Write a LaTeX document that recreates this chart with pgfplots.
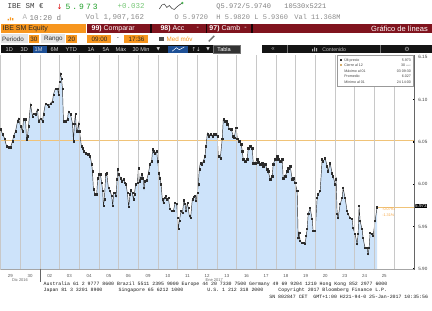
\documentclass[border=0pt]{standalone}
\usepackage{fontspec}
\setmainfont{Liberation Sans}
\newfontfamily\mono{Liberation Mono}
\newfontfamily\monowide[LetterSpace=25]{Liberation Mono}
\newfontfamily\symfont{DejaVu Sans}
\usepackage{pgfplots}
\pgfplotsset{compat=1.18}
\usepackage{pgfplotstable}
\newcommand{\fs}[1]{\fontsize{#1}{#1}\selectfont}
\definecolor{bbfill}{RGB}{205,227,250}
\definecolor{bbline}{RGB}{45,45,45}
\definecolor{bborange}{RGB}{247,150,30}
\definecolor{bbred}{RGB}{128,20,30}
\definecolor{cierre}{RGB}{240,195,120}
\definecolor{bbgreen}{RGB}{30,160,40}
\definecolor{bblgreen}{RGB}{120,200,120}
\definecolor{bbblue}{RGB}{30,80,150}
\definecolor{bbgrid}{RGB}{200,200,200}

\pgfplotstableread{
d v
0 6.0651
0.102 6.0592
0.203 6.0544
0.305 6.0450
0.406 6.0438
0.508 6.0438
0.609 6.0509
0.660 6.0568
0.761 6.0627
0.863 6.0745
0.914 6.0780
1.015 6.0686
1.117 6.0627
1.168 6.0769
1.269 6.0769
1.320 6.0533
1.371 6.0568
1.421 6.0686
1.523 6.0945
1.624 6.0804
1.675 6.0839
1.777 6.0828
1.878 6.0886
1.929 6.0745
2.030 6.0780
2.132 6.0745
2.183 6.0828
2.284 6.0957
2.386 6.0945
2.437 6.0922
2.538 6.0957
2.640 6.0981
2.690 6.1063
2.792 6.1134
2.893 6.1134
2.944 6.1063
2.995 6.1217
3.046 6.1311
3.096 6.1252
3.147 6.1134
3.198 6.0745
3.299 6.0745
3.401 6.0769
3.452 6.0863
3.553 6.0828
3.655 6.0721
3.706 6.0509
3.756 6.0721
3.807 6.0839
3.858 6.0627
3.909 6.0627
3.959 6.0721
4.010 6.0627
4.112 6.0450
4.162 6.0427
4.213 6.0391
4.315 6.0368
4.416 6.0356
4.467 6.0356
4.553 6.0332
4.634 6.0238
4.670 6.0155
4.721 5.9943
4.807 5.9884
4.888 5.9884
4.939 6.0073
5.010 6.0120
5.076 6.0120
5.142 6.0014
5.193 5.9920
5.228 5.9743
5.279 5.9825
5.345 6.0120
5.396 6.0132
5.482 5.9955
5.568 5.9920
5.650 5.9861
5.700 5.9743
5.751 5.9896
5.822 5.9896
5.873 5.9861
5.924 6.0061
5.954 6.0179
6.025 6.0120
6.091 6.0073
6.157 6.0037
6.244 6.0061
6.330 6.0014
6.381 6.0002
6.447 5.9896
6.513 5.9731
6.584 5.9884
6.635 5.9931
6.700 5.9896
6.751 5.9825
6.802 5.9884
6.868 6.0002
6.954 6.0014
7.005 6.0191
7.056 6.0037
7.122 6.0073
7.173 6.0120
7.244 6.0073
7.294 5.9955
7.345 6.0037
7.426 6.0049
7.513 6.0132
7.599 6.0238
7.680 6.0273
7.731 6.0415
7.802 6.0391
7.853 6.0368
7.934 6.0391
7.985 6.0273
8.056 6.0132
8.107 6.0073
8.157 6.0002
8.223 5.9825
8.274 5.9778
8.325 5.9837
8.391 5.9861
8.462 5.9825
8.528 5.9837
8.614 5.9707
8.695 5.9684
8.782 5.9684
8.868 5.9778
8.949 5.9766
9.000 5.9601
9.035 5.9471
9.086 5.9566
9.172 5.9684
9.239 5.9660
9.325 5.9813
9.376 5.9766
9.426 5.9684
9.492 5.9778
9.543 5.9719
9.594 5.9625
9.660 5.9601
9.746 5.9825
9.812 5.9849
9.883 5.9861
9.934 5.9802
10.000 5.9896
10.051 6.0002
10.101 6.0179
10.152 6.0250
10.218 6.0238
10.305 6.0273
10.391 6.0332
10.442 6.0450
10.508 6.0603
10.558 6.0568
10.660 6.0592
10.761 6.0568
10.812 6.0592
10.914 6.0592
11.015 6.0568
11.066 6.0332
11.168 6.0309
11.269 6.0544
11.320 6.0769
11.371 6.0745
11.472 6.0745
11.523 6.0710
11.624 6.0662
11.726 6.0651
11.827 6.0568
11.878 6.0556
11.980 6.0674
12.030 6.0544
12.132 6.0509
12.234 6.0474
12.284 6.0391
12.335 6.0297
12.437 6.0273
12.538 6.0297
12.589 6.0427
12.690 6.0450
12.792 6.0427
12.843 6.0250
12.944 6.0250
13.046 6.0297
13.096 6.0261
13.198 6.0238
13.299 6.0250
13.350 6.0214
13.452 6.0238
13.553 6.0179
13.604 6.0155
13.706 6.0061
13.807 6.0096
13.858 6.0238
13.959 6.0297
14.061 6.0332
14.112 6.0297
14.213 6.0273
14.315 6.0297
14.365 6.0073
14.467 6.0096
14.569 6.0155
14.619 6.0191
14.721 6.0214
14.822 6.0061
14.873 6.0073
14.975 6.0014
15.076 5.9920
15.127 5.9365
15.178 5.9424
15.228 5.9330
15.330 5.9306
15.381 5.9306
15.482 5.9295
15.533 5.9389
15.584 5.9471
15.635 5.9648
15.736 5.9719
15.838 5.9589
15.888 5.9448
15.939 5.9448
15.990 5.9448
16.091 5.9837
16.142 5.9884
16.244 5.9920
16.345 6.0297
16.396 6.0273
16.497 6.0309
16.599 6.0214
16.650 6.0155
16.751 6.0250
16.853 6.0132
16.904 6.0096
17.005 6.0002
17.056 6.0061
17.107 5.9648
17.157 5.9601
17.259 5.9766
17.360 5.9837
17.411 5.9955
17.513 5.9837
17.614 5.9684
17.665 5.9648
17.766 5.9601
17.868 5.9589
17.919 5.9483
18.020 5.9412
18.122 5.9295
18.173 5.9412
18.223 5.9743
18.274 5.9566
18.376 5.9471
18.426 5.9365
18.528 5.9247
18.629 5.9247
18.680 5.9177
18.731 5.9247
18.782 5.9424
18.883 5.9412
18.934 5.9389
19.036 5.9566
19.137 5.9730
}\pricedata

\begin{document}
\begin{tikzpicture}[x=1pt,y=1pt,t/.style={anchor=west,inner sep=0pt}]
\fill[white] (0,0) rectangle (432,311);

% ---------- header line 1
\node[t,font=\mono\fs{7.5},text=black!75] at (7,304.5) {IBE SM €};
\node[t,font=\symfont\fs{7},text=red!85!black] at (56,304.5) {↓};
\node[t,font=\monowide\fs{8},text=bbgreen] at (65,304.5) {5.973};
\node[t,font=\mono\fs{7.5},text=bblgreen] at (117,304.5) {+0.032};
\draw[black!80,line width=0.5pt] (159,302) -- (161.5,306) -- (164,307) -- (166.5,303.5) -- (169,305.5) -- (171.5,302.5) -- (174,301.5) -- (176.5,304) -- (179,306) -- (182,308);
\fill[bbgreen!80] (182,308) circle (1.3pt);
\node[t,font=\mono\fs{7},text=black!50] at (216,304.5) {Q5.972/5.9740};
\node[t,font=\mono\fs{7},text=black!50] at (284,304.5) {10530x5221};
% ---------- header line 2
\fill[bborange] (7,290.5) rectangle (8.3,292) (9.3,290.5) rectangle (10.6,293.5) (11.6,290.5) rectangle (12.9,292.8);
\node[t,font=\mono\fs{7.5},text=black!30] at (22,293.5) {A};
\node[t,font=\mono\fs{7.5},text=black!50] at (29,293.5) {10:20 d};
\node[t,font=\mono\fs{7.5},text=black!45] at (85,293.5) {Vol 1,907,162};
\node[t,font=\mono\fs{7},text=black!45] at (174,293.5) {O 5.9720};
\node[t,font=\mono\fs{7},text=black!45] at (216,293.5) {H 5.9820};
\node[t,font=\mono\fs{7},text=black!45] at (254,293.5) {L 5.9360};
\node[t,font=\mono\fs{7},text=black!45] at (294,293.5) {Val 11.368M};

% ---------- row B (orange / red bar)
\fill[bborange] (0,278) rectangle (86,287);
\fill[bbred] (87,278) rectangle (432,287);
\fill[black!80!bbred] (150,278) rectangle (151.3,287);
\fill[black!80!bbred] (205.5,278) rectangle (206.8,287);
\fill[black!80!bbred] (250.5,278) rectangle (253,287);
\node[t,font=\fs{7},text=black!85] at (2,282.5) {IBE SM Equity};
\node[t,font=\fs{7},text=white] at (91,282.5) {\textbf{99)} Comparar};
\node[t,font=\fs{7},text=white] at (160,282.5) {\textbf{98)} Acc};
\node[t,font=\fs{7},text=white] at (196,282.5) {-};
\node[t,font=\fs{7},text=white] at (209,282.5) {\textbf{97)} Camb};
\node[t,font=\fs{7},text=white] at (244,282.5) {-};
\node[anchor=east,inner sep=0pt,font=\fs{7.5},text=white] at (428,282.5) {Gráfico de líneas};

% ---------- row C
\fill[black!10] (0,267.5) rectangle (27,276.5);
\node[t,font=\fs{6.3},text=black!80] at (1.5,272) {Periodo};
\fill[bborange] (28,268) rectangle (38.5,276);
\node[font=\fs{6.3},text=black!85,inner sep=0pt] at (33.25,272) {30};
\fill[black!10] (41,267.5) rectangle (65,276.5);
\node[t,font=\fs{6.3},text=black!80] at (43.5,272) {Rango};
\fill[bborange] (66,268) rectangle (76.5,276);
\node[font=\fs{6.3},text=black!85,inner sep=0pt] at (71.25,272) {20};
\fill[bborange] (87,268) rectangle (111,276);
\node[font=\fs{6.3},text=black!85,inner sep=0pt] at (99,272) {09:00};
\node[font=\fs{6.3},text=black!70,inner sep=0pt] at (117.5,272) {-};
\fill[bborange] (124,268) rectangle (148,276);
\node[font=\fs{6.3},text=black!85,inner sep=0pt] at (136,272) {17:36};
\fill[black!70] (159,269.8) rectangle (163.5,274.3);
\node[t,font=\fs{6.3},text=bborange] at (166,272) {Med móv};
\draw[black!55,line width=1.4pt] (208.5,269.5) -- (214,275);

% ---------- row D
\fill[black!93] (0,257.5) rectangle (241,266);
\fill[bbblue] (32,258.2) rectangle (47,265.3);
\fill[bbblue] (168,258.2) rectangle (188,265.3);
\draw[white,line width=0.5pt] (172,259.8) -- (176,263.2) -- (179,261.2) -- (184,264);
\fill[black!80] (213,257.5) rectangle (240,266);
\draw[black!55,line width=0.4pt] (213.2,257.7) rectangle (239.8,265.8);
\foreach \xx/\lab in {5/1D,20/3D,34/1M,50/6M,65/YTD,87/1A,102/5A,115/Máx,132/30 Min}
  \node[t,font=\fs{5.6},text=black!15] at (\xx,261.75) {\lab};
\node[t,font=\symfont\fs{4.5},text=black!15] at (156,261.75) {▼};
\node[t,font=\symfont\fs{5.5},text=black!15] at (191,261.75) {↑↓};
\node[t,font=\symfont\fs{4.5},text=black!15] at (206,261.75) {▼};
\node[t,font=\fs{5.6},text=white] at (217,261.75) {Tabla};
\fill[black!92] (262,257.5) rectangle (432,266);
\draw[black!55,line width=0.5pt] (287,258) -- (287,265.5);
\draw[black!55,line width=0.5pt] (380,258) -- (380,265.5);
\node[t,font=\fs{6},text=black!25] at (271,261.75) {«};
\fill[black!30] (312,259.5) rectangle (313,262) (314,259.5) rectangle (315,263.5) (316,259.5) rectangle (317,262.8);
\node[t,font=\fs{5.2},text=black!25] at (322,261.75) {Contenido};
\node[font=\symfont\fs{6},text=black!30,inner sep=0pt] at (407,261.75) {⚙};

% ---------- chart
\begin{axis}[
  at={(0,48.5)}, anchor=south west,
  width=414pt, height=214.5pt, scale only axis,
  xmin=0, xmax=21.015, ymin=5.8994, ymax=6.1524,
  enlargelimits=false,
  axis line style={draw=none},
  ytick pos=right, yticklabel pos=right,
  xtick pos=bottom,
  xtick={0.5,1.5,...,19.5},
  xticklabels={29,30,02,03,04,05,06,09,10,11,12,13,16,17,18,19,20,23,24,25},
  xtick style={draw=none},
  minor xtick={0,1,...,20},
  minor tick length=0pt,
  xminorgrids=true,
  minor x grid style={bbgrid,line width=0.5pt},
  axis on top,
  xticklabel style={font=\fs{4.4},text=black!65,yshift=-0.4pt},
  ytick={5.9,5.95,6,6.05,6.1,6.15},
  yticklabels={5.90,5.95,6.00,6.05,6.10,6.15},
  ytick style={draw=black,line width=1.3pt},
  major tick length=1.3pt, tick align=center,
  yticklabel style={font=\fs{4.6},text=black!75,xshift=0.2pt},
  after end axis/.code={
    \draw[black!35,line width=0.4pt] (rel axis cs:0,0) -- (rel axis cs:1,0);
    \draw[black!60,line width=0.6pt] (rel axis cs:1,0) -- (rel axis cs:1,1);
  },
]
\addplot[fill=bbfill,draw=none] table[x=d,y=v]{\pricedata} \closedcycle;
\addplot[cierre,line width=0.6pt] coordinates {(0,6.0521) (21.015,6.0521)};
\addplot[bbline,line width=0.45pt,mark=square*,mark size=0.55pt,mark options={fill=black!85,draw=none}] table[x=d,y=v]{\pricedata};
\addplot[cierre,line width=0.6pt] coordinates {(19.137,5.973) (21.015,5.973)};
\end{axis}

% last price box and change
\node[anchor=west,fill=black,text=white,inner sep=0.7pt,font=\fs{4.6}] at (414.3,104.9) {5.973};
\node[t,font=\fs{3.8},text=bborange!85] at (382,101.3) {-0.0791};
\node[t,font=\fs{3.8},text=bborange!85] at (382,95.5) {-1.31\%};

% stats box
\draw[fill=white,draw=black!40,line width=0.4pt] (337,225) rectangle (413,256);
\fill[black!80] (339.6,250) rectangle (341.6,252);
\fill[cierre!90!black] (339.6,244.5) rectangle (341.6,246.5);
\foreach \yy/\lab/\val in {251/Últ precio/5.973, 245.5/Cierre al 12/30 ----/6.0521, 240/Máximo al 01/03 09:30/6.1310, 234.5/Promedio/6.027, 229/Mínimo al 01/24 14:00/5.919}{
  \node[t,font=\fs{3.6},text=black!75] at (344,\yy) {\lab};
  \node[anchor=east,inner sep=0pt,font=\fs{3.6},text=black!75] at (411,\yy) {\val};
}

% month labels
\draw[black!60,line width=0.5pt] (39.4,42) -- (39.4,28.5);
\node[font=\fs{4},text=black!60,inner sep=0pt] at (19.5,30.6) {Dic 2016};
\node[font=\fs{4},text=black!60,inner sep=0pt] at (214,30.6) {Ene 2017};

% footer
\node[t,font=\mono\fs{4.9},text=black!90] at (43,26.6) {Australia 61 2 9777 8600 Brazil 5511 2395 9000 Europe 44 20 7330 7500 Germany 49 69 9204 1210 Hong Kong 852 2977 6000};
\node[t,font=\mono\fs{4.9},text=black!90] at (43,20.6) {Japan 81 3 3201 8900};
\node[t,font=\mono\fs{4.9},text=black!90] at (118,20.6) {Singapore 65 6212 1000};
\node[t,font=\mono\fs{4.9},text=black!90] at (207,20.6) {U.S. 1 212 318 2000};
\node[t,font=\mono\fs{4.9},text=black!90] at (278,20.6) {Copyright 2017 Bloomberg Finance L.P.};
\node[t,font=\mono\fs{4.9},text=black!90] at (269,14) {SN 802847 CET\ \ GMT+1:00 H221-94-0 25-Jan-2017 10:35:56};
\end{tikzpicture}
\end{document}
